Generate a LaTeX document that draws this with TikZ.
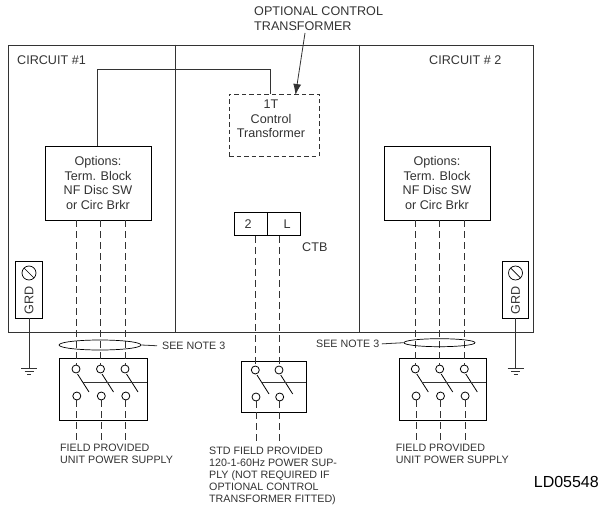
\documentclass[tikz,border=0pt]{standalone}
\usepackage{fontspec}
\setmainfont{Liberation Sans}
\usetikzlibrary{arrows.meta,shapes.geometric}
\definecolor{inkgray}{gray}{0.2}
\tikzset{
    wire/.style={draw=inkgray, line width=0.8},
    phase/.style={draw=inkgray, line width=0.8, dash pattern=on 7 off 4},
    blade/.style={draw=black, line width=0.8},
    optbox/.style={draw=black, line width=0.9, fill=white, align=center, inner sep=0, text=inkgray,
        minimum width=106, minimum height=74, font=\fontsize{12.6}{14.5}\selectfont},
    grdbox/.style={draw=black, line width=0.9, minimum width=26.5, minimum height=57, inner sep=0},
    swbox/.style={draw=black, line width=0.9, inner sep=0},
    ctbbox/.style={draw=black, line width=0.9, minimum width=33, minimum height=23, inner sep=0},
    term/.style={circle, draw=black, line width=0.8, fill=white, minimum size=8, inner sep=0},
    ring/.style={ellipse, draw=black, line width=0.7, inner sep=0},
    lbl/.style={inner sep=0, align=left, text=inkgray, font=\fontsize{10.7}{12}\selectfont},
    txt/.style={inner sep=0, align=left, text=inkgray, font=\fontsize{12.6}{15.5}\selectfont},
}
% one ground symbol below a named coordinate
\newcommand{\gndsym}[1]{
    \draw[wire] ([xshift=-8]#1) -- ([xshift=8]#1);
    \draw[wire] ([xshift=-4.5,yshift=-3]#1) -- ([xshift=4.5,yshift=-3]#1);
    \draw[wire] ([xshift=-2,yshift=-6]#1) -- ([xshift=2,yshift=-6]#1);
}
\begin{document}
\begin{tikzpicture}[x=1pt, y=-1pt]
    \useasboundingbox (0, 0) rectangle (599, 508);

    % frame
    \node[draw=inkgray, line width=0.9, minimum width=525, minimum height=287, inner sep=0] (frame) at (270.5, 188.5) {};
    \draw[wire] (175, 0 |- frame.north) -- (175, 0 |- frame.south);
    \draw[wire] (359, 0 |- frame.north) -- (359, 0 |- frame.south);

    \node[txt, anchor=west] (cA) at (17, 60) {CIRCUIT \#1};
    \node[txt, anchor=west] (cB) at (429, 60) {CIRCUIT \# 2};

    % control transformer
    \node[draw=inkgray, line width=0.9, dash pattern=on 4.5 off 3, inner sep=0,
        minimum width=90, minimum height=62] (tr) at (274, 125) {};
    \node[inner sep=0, align=center, text=inkgray, font=\fontsize{12.6}{14.5}\selectfont]
        (trtxt) at (271, 119) {1T\\Control\\Transformer};
    \node[txt, anchor=north west] (opt) at (254, 6.5) {OPTIONAL CONTROL\\TRANSFORMER};
    \coordinate (optend) at (305, 33);
    \coordinate (opttip) at (295.5, 95);
    \draw[wire, -{Latex[length=11, width=8]}] (optend) -- (opttip);

    % options boxes
    \node[optbox] (optA) at (98, 183) {Options:\\Term. Block\\NF Disc SW\\or Circ Brkr};
    \node[optbox] (optB) at (437, 183) {Options:\\Term. Block\\NF Disc SW\\or Circ Brkr};
    \coordinate (bendA) at (97, 69);
    \coordinate (bendB) at (270, 69);
    \draw[wire] (optA.north -| bendA) -- (bendA) -- (bendB) -- (tr.north -| bendB);

    % CTB
    \node[ctbbox] (ctbA) at (251.2, 223.8) {};
    \node[ctbbox] (ctbB) at (284.2, 223.8) {};
    \node[txt] (ctbtA) at (248, 224) {2};
    \node[txt] (ctbtB) at (287, 224) {L};
    \node[txt, anchor=west] (ctb) at (302, 247) {CTB};

    % switch boxes
    \node[swbox, minimum width=88, minimum height=62] (swA) at (103, 389) {};
    \node[swbox, minimum width=65, minimum height=51] (swC) at (273.5, 386.5) {};
    \node[swbox, minimum width=87, minimum height=62] (swB) at (442.5, 389) {};

    % left switch
    \foreach \x/\n in {76/a, 100.5/b, 125/c} {
        \node[term] (t\n) at (\x, 369) {};
        \node[term] (u\n) at (\x+0.8, 396) {};
        \draw[phase] (optA.south -| t\n) -- (t\n);
        \draw[phase] (u\n) -- (\x+0.8, 442);
        \draw[blade] (\x+1.5, 374) -- (\x+13, 392);
    }
    \draw[draw=inkgray, line width=1] (83, 382) -- (147, 382);

    % right switch
    \foreach \x/\n in {415.3/d, 439.7/e, 464.3/f} {
        \node[term] (t\n) at (\x, 369) {};
        \node[term] (u\n) at (\x+0.8, 396) {};
        \draw[phase] (optB.south -| t\n) -- (t\n);
        \draw[phase] (u\n) -- (\x+0.8, 442);
        \draw[blade] (\x+1.5, 374) -- (\x+13, 392);
    }
    \draw[draw=inkgray, line width=1] (422, 382) -- (486, 382);

    % center switch
    \foreach \x/\n/\c in {255.3/g/ctbA, 279/h/ctbB} {
        \node[term] (t\n) at (\x, 370) {};
        \node[term] (u\n) at (\x+0.7, 397) {};
        \draw[phase] (\c.south -| t\n) -- (t\n);
        \draw[phase] (u\n) -- (\x+0.7, 443);
        \draw[blade] (\x+1.7, 375) -- (\x+13.7, 394);
    }
    \draw[draw=inkgray, line width=0.9] (262, 382.7) -- (306, 382.7);

    % notes
    \node[ring, minimum width=82, minimum height=10] (ringA) at (100, 345) {};
    \node[ring, minimum width=71, minimum height=8] (ringB) at (439.5, 342.7) {};
    \node[lbl, anchor=west] (noteA) at (162, 346) {SEE NOTE 3};
    \node[lbl, anchor=west] (noteB) at (316, 344) {SEE NOTE 3};
    \draw[wire, shorten >=5] (ringA.east) -- (noteA.west);
    \draw[wire, shorten <=2.5] (noteB.east) -- (ringB.west);

    % GRD
    \node[grdbox] (grdA) at (29, 289.5) {};
    \node[grdbox] (grdB) at (515.5, 289.5) {};
    \node[rotate=90, txt] (gA) at (29, 300) {GRD};
    \node[rotate=90, txt] (gB) at (515.5, 300) {GRD};
    \foreach \x/\n in {29/A, 515.5/B} {
        \draw[line width=0.7] (\x, 273) circle[radius=7];
        \draw[line width=0.7] (\x-5, 268) -- (\x+5, 278);
        \coordinate (gnd\n) at (\x, 368);
        \draw[wire] (grd\n.south) -- (gnd\n);
        \gndsym{gnd\n}
    }

    % captions
    \node[lbl, anchor=north west] (capA) at (60, 444) {FIELD PROVIDED\\UNIT POWER SUPPLY};
    \node[lbl, anchor=north west] (capC) at (209, 447) {STD FIELD PROVIDED\\120-1-60Hz POWER SUP-\\PLY (NOT REQUIRED IF\\OPTIONAL CONTROL\\TRANSFORMER FITTED)};
    \node[lbl, anchor=north west] (capB) at (395.7, 444) {FIELD PROVIDED\\UNIT POWER SUPPLY};
    \node[txt, anchor=east, text=black, font=\fontsize{16}{18}\selectfont] (ld) at (599, 481.5) {LD05548};
\end{tikzpicture}
\end{document}
